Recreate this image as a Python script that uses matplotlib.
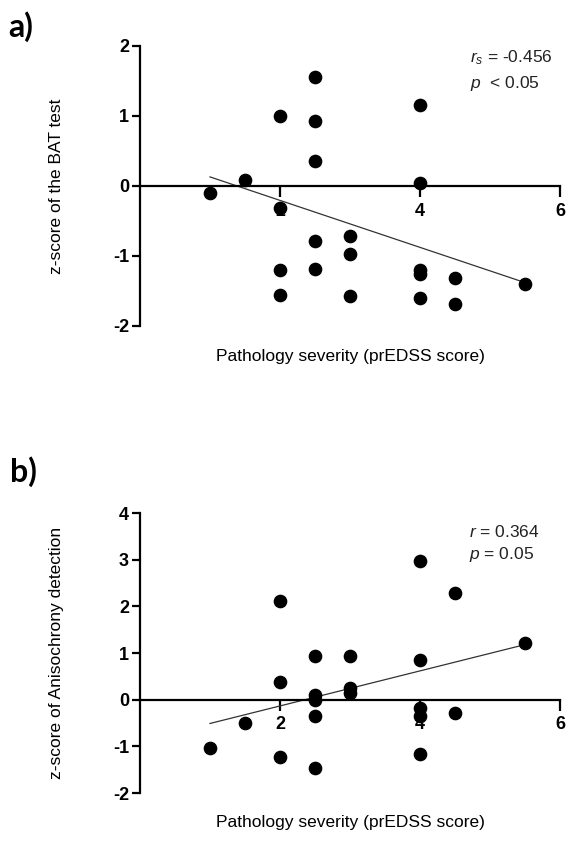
import numpy as np
import matplotlib.pyplot as plt

plt.rcParams['font.family'] = ['Liberation Sans', 'DejaVu Sans']
plt.rcParams['axes.unicode_minus'] = False
plt.rcParams['mathtext.fontset'] = 'custom'
plt.rcParams['mathtext.rm'] = 'Liberation Sans'
plt.rcParams['mathtext.it'] = 'Liberation Sans:italic'

# panel a: BAT test
bat_x = [1.0, 1.5, 2, 2, 2, 2, 2.5, 2.5, 2.5, 2.5, 2.5, 3, 3, 3,
         4, 4, 4, 4, 4, 4.5, 4.5, 5.5]
bat_y = [-0.10, 0.08, 1.00, -0.31, -1.20, -1.56, 1.56, 0.93, 0.36, -0.78, -1.18,
         -0.72, -0.97, -1.57, 1.15, 0.05, -1.20, -1.26, -1.60, -1.32, -1.69, -1.40]
bat_fit_x = [1.0, 5.5]
bat_fit_y = [0.13, -1.38]

# panel b: anisochrony detection
ani_x = [1.0, 1.5, 2, 2, 2, 2.5, 2.5, 2.5, 2.5, 2.5, 3, 3, 3,
         4, 4, 4, 4, 4, 4.5, 4.5, 5.5]
ani_y = [-1.03, -0.50, 2.11, 0.38, -1.23, 0.93, 0.11, 0.00, -0.34, -1.46,
         0.93, 0.26, 0.15, 2.98, 0.84, -0.17, -0.34, -1.16, 2.29, -0.29, 1.22]
ani_fit_x = [1.0, 5.5]
ani_fit_y = [-0.51, 1.18]

W, H = 568, 841
fig = plt.figure(figsize=(W / 100, H / 100), dpi=100)


def style_axes(ax, ylo, yhi):
    ax.set_xlim(0, 6)
    ax.set_ylim(ylo, yhi)
    for s in ['top', 'right']:
        ax.spines[s].set_visible(False)
    ax.spines['bottom'].set_position(('data', 0))
    ax.spines['bottom'].set_bounds(0, 6)
    ax.spines['left'].set_bounds(ylo, yhi)
    for s in ['bottom', 'left']:
        ax.spines[s].set_linewidth(1.6)
    ax.set_xticks([2, 4, 6])
    ax.set_yticks(np.arange(ylo, yhi + 1))
    ax.tick_params(axis='x', length=8, width=1.6, pad=4, labelsize=13)
    ax.tick_params(axis='y', length=6, width=1.6, pad=2, labelsize=13)
    for lab in ax.get_xticklabels() + ax.get_yticklabels():
        lab.set_fontweight('bold')


# panel a
ax1 = fig.add_axes([140 / W, 1 - 326 / H, 420 / W, 280 / H])
style_axes(ax1, -2, 2)
ax1.scatter(bat_x, bat_y, s=78, color='black', zorder=3, clip_on=False)
ax1.plot(bat_fit_x, bat_fit_y, color='#333333', lw=0.9)
ax1.text(4.72, 1.83, r'$r_s$ = -0.456', fontsize=12.5, va='center', color='#222222')
ax1.text(4.72, 1.47, r'$p$  < 0.05', fontsize=12.5, va='center', color='#222222')
ax1.set_ylabel('z-score of the BAT test', fontsize=12.5)
ax1.yaxis.set_label_coords(-0.18, 0.5)
ax1.text(0.5, -0.11, 'Pathology severity (prEDSS score)', transform=ax1.transAxes,
         ha='center', va='center', fontsize=12.5)

# panel b
ax2 = fig.add_axes([140 / W, 1 - 793 / H, 420 / W, 280 / H])
style_axes(ax2, -2, 4)
ax2.scatter(ani_x, ani_y, s=78, color='black', zorder=3, clip_on=False)
ax2.plot(ani_fit_x, ani_fit_y, color='#333333', lw=0.9)
ax2.text(4.7, 3.6, r'$r$ = 0.364', fontsize=12.5, va='center', color='#222222')
ax2.text(4.7, 3.1, r'$p$ = 0.05', fontsize=12.5, va='center', color='#222222')
ax2.set_ylabel('z-score of Anisochrony detection', fontsize=12.5)
ax2.yaxis.set_label_coords(-0.18, 0.5)
ax2.text(0.5, -0.104, 'Pathology severity (prEDSS score)', transform=ax2.transAxes,
         ha='center', va='center', fontsize=12.5)

fig.text(8 / W, 1 - 27 / H, 'a)', fontsize=23, fontweight='bold', va='center',
         family=['Lato', 'DejaVu Sans'])
fig.text(10 / W, 1 - 472 / H, 'b)', fontsize=23, fontweight='bold', va='center',
         family=['Lato', 'DejaVu Sans'])

fig.savefig('out.png', dpi=100)
